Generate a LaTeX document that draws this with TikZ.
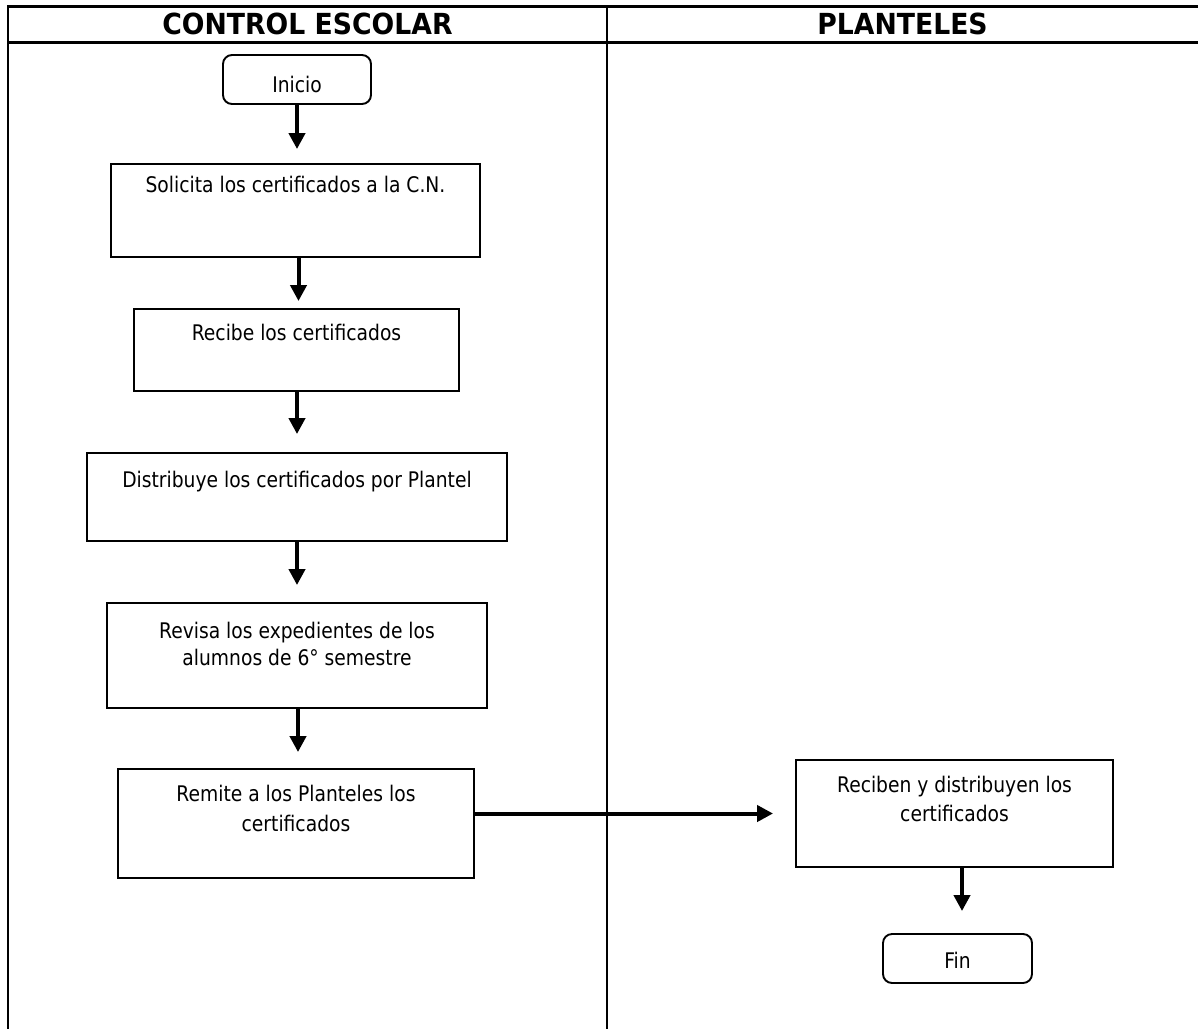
\documentclass[tikz,border=0pt]{standalone}
\usepackage{fontspec}
\setmainfont{DejaVu Sans}
\newfontfamily\bodyfont[FakeStretch=0.87]{DejaVu Sans}
\newfontfamily\headfont[FakeStretch=0.92]{DejaVu Sans}
\usetikzlibrary{arrows.meta}

\begin{document}
\begin{tikzpicture}[x=1pt,y=-1pt,
  stepbox/.style={draw, line width=1.9pt, inner sep=0pt, fill=white},
  termbox/.style={stepbox, rounded corners=9pt},
  lbl/.style={font={\bodyfont\fontsize{21.5}{28}\selectfont}, anchor=base, inner sep=0pt},
  head/.style={font={\headfont\bfseries\fontsize{29}{34}\selectfont}, anchor=base, inner sep=0pt},
  rule/.style={line width=3pt},
  lane/.style={line width=1.6pt},
  flow/.style={line width=4pt, -{Triangle[length=16pt,width=16pt]}}]

\useasboundingbox (0,0) rectangle (1198,1029);

% swimlane frame
\draw[rule] (8,6) -- (1198,6);
\draw[rule] (8,42) -- (1198,42);
\draw[lane] (8,5) -- (8,1029);
\draw[lane] (607,5) -- (607,1029);

% lane titles
\node[head] (hce) at (307.5,34.5) {CONTROL ESCOLAR};
\node[head] (hpl) at (902.5,34.5) {PLANTELES};

% control escolar lane
\node[termbox, minimum width=148pt, minimum height=49pt] (ini) at (297,79.5) {};
\node[lbl] (init) at (297,92) {Inicio};

\node[stepbox, minimum width=369pt, minimum height=93pt] (sol) at (295.5,210.5) {};
\node[lbl] (solt) at (295.5,192) {Solicita los certificados a la C.N.};

\node[stepbox, minimum width=325pt, minimum height=82pt] (rec) at (296.5,350) {};
\node[lbl] (rect) at (296.5,340) {Recibe los certificados};

\node[stepbox, minimum width=420pt, minimum height=88pt] (dis) at (297,497) {};
\node[lbl] (dist) at (297,487) {Distribuye los certificados por Plantel};

\node[stepbox, minimum width=380pt, minimum height=105pt] (rev) at (297,655.5) {};
\node[lbl] (revt1) at (297,638) {Revisa los expedientes de los};
\node[lbl] (revt2) at (297,665) {alumnos de 6° semestre};

\node[stepbox, minimum width=356pt, minimum height=109pt] (rem) at (296,823.5) {};
\node[lbl] (remt1) at (296,801) {Remite a los Planteles los};
\node[lbl] (remt2) at (296,831) {certificados};

% planteles lane
\node[stepbox, minimum width=317pt, minimum height=107pt] (rcb) at (954.5,813.5) {};
\node[lbl] (rcbt1) at (954.5,792) {Reciben y distribuyen los};
\node[lbl] (rcbt2) at (954.5,821.5) {certificados};

\node[termbox, minimum width=149pt, minimum height=49pt] (fin) at (957.5,958.5) {};
\node[lbl] (fint) at (957.5,968) {Fin};

% connectors
\draw[flow, shorten >=14pt] (ini.south) -- (ini.south |- sol.north);
\draw[flow, shorten >=7pt] ([xshift=3pt]sol.south) -- ([xshift=3pt]sol.south |- rec.north);
\draw[flow, shorten >=18pt] ([xshift=0.5pt]rec.south) -- ([xshift=0.5pt]rec.south |- dis.north);
\draw[flow, shorten >=17pt] (dis.south) -- (dis.south |- rev.north);
\draw[flow, shorten >=16pt] ([xshift=1pt]rev.south) -- ([xshift=1pt]rev.south |- rem.north);
\draw[flow, shorten >=22pt] (rem.east |- rcb.west) -- (rcb.west);
\draw[flow, shorten >=22pt] ([xshift=4.5pt]fin.north |- rcb.south) -- ([xshift=4.5pt]fin.north);

\end{tikzpicture}
\end{document}
